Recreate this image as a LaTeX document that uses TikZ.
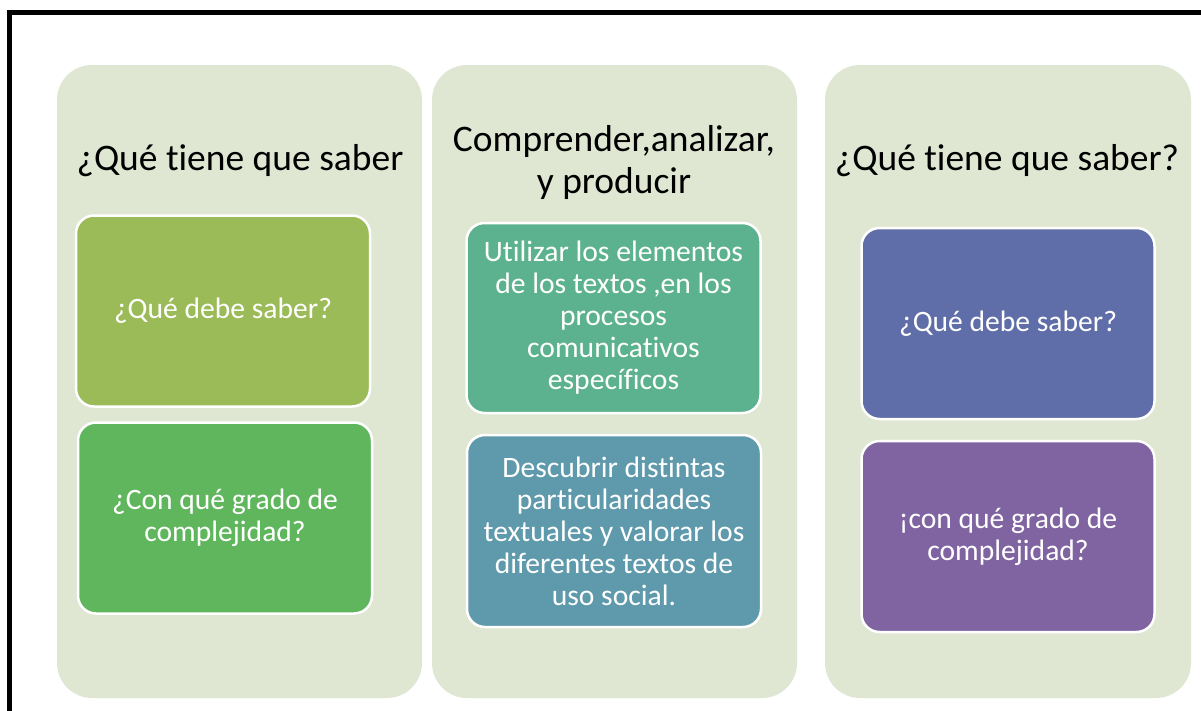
\documentclass[tikz,border=0pt]{standalone}
\usepackage{fontspec}
\setmainfont{Carlito}[Ligatures=NoCommon]
\definecolor{panelbg}{HTML}{DFE7D3}
\definecolor{cA}{HTML}{9BBB59}
\definecolor{cB}{HTML}{60B65D}
\definecolor{cC}{HTML}{5CB28E}
\definecolor{cD}{HTML}{5E9AAC}
\definecolor{cE}{HTML}{5F6EA8}
\definecolor{cF}{HTML}{8064A2}
\tikzset{
  panel/.style={fill=panelbg, draw=none, rounded corners=35pt, minimum width=365pt, minimum height=633pt, inner sep=0pt},
  heading/.style={text=black, align=center, inner sep=0pt, font=\fontsize{37.5}{42}\selectfont},
  item/.style={fill=#1, draw=white, line width=2.5pt, rounded corners=18pt, minimum width=294pt, minimum height=191pt, inner sep=0pt, text=white, align=center, font=\fontsize{29.6}{32}\selectfont},
  frame/.style={draw=black, line width=5pt}
}
\begin{document}
\begin{tikzpicture}[x=1pt,y=-1pt]
\useasboundingbox (0,0) rectangle (1201,710);
\fill[white] (0,0) rectangle (1201,710);
\draw[frame] (9.5,720) -- (9.5,12.5) -- (1215,12.5);
\node[panel] (p1) at (239.5,381.5) {};
\node[panel] (p2) at (614.5,381.5) {};
\node[panel, minimum width=366pt] (p3) at (1008,381.5) {};
\node[heading] (h1) at (240,161) {¿Qué tiene que saber};
\node[heading] (h2) at (614,162) {Comprender,analizar,\\y producir};
\node[heading] (h3) at (1007,161) {¿Qué tiene que saber?};
\node[item=cA] (a1) at (223,311) {¿Qué debe saber?};
\node[item=cB] (a2) at (225,518) {¿Con qué grado de\\complejidad?};
\node[item=cC, minimum height=190pt] (b1) at (613.5,318) {Utilizar los elementos\\de los textos ,en los\\procesos\\comunicativos\\específicos};
\node[item=cD, minimum height=192pt] (b2) at (614,531) {Descubrir distintas\\particularidades\\textuales y valorar los\\diferentes textos de\\uso social.};
\node[item=cE, minimum width=293pt] (c1) at (1008,323.5) {¿Qué debe saber?};
\node[item=cF, minimum width=293pt] (c2) at (1008,536.5) {¡con qué grado de\\complejidad?};
\end{tikzpicture}
\end{document}
